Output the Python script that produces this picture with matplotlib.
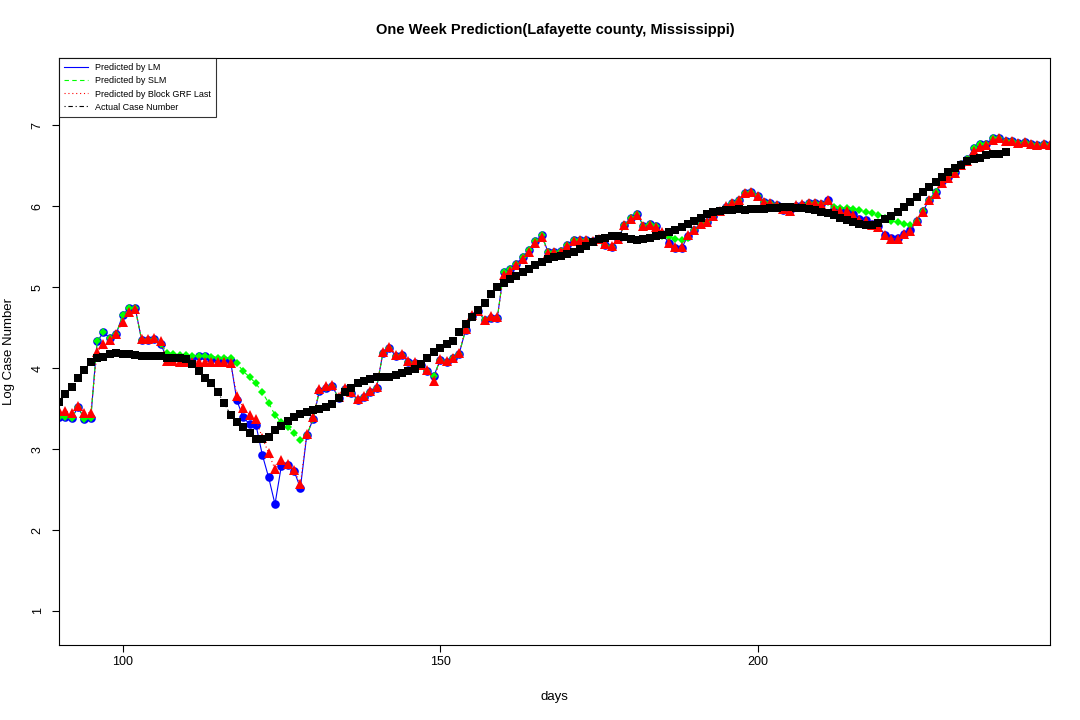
import matplotlib

matplotlib.use("Agg")
import matplotlib.pyplot as plt
from matplotlib.lines import Line2D
import numpy as np

plt.rcParams["font.family"] = ["Liberation Sans", "DejaVu Sans"]

# days covered by the predictions (actual data stops a week earlier)
days = np.arange(90, 247)
actual_days = np.arange(90, 240)

actual = [
    3.58, 3.68, 3.77, 3.88, 3.98, 4.08, 4.12, 4.14, 4.17, 4.19,   # 90-99
    4.18, 4.17, 4.16, 4.15, 4.15, 4.15, 4.15, 4.13, 4.12, 4.12,   # 100-109
    4.11, 4.05, 3.96, 3.88, 3.81, 3.70, 3.57, 3.42, 3.34, 3.27,   # 110-119
    3.20, 3.12, 3.12, 3.15, 3.23, 3.29, 3.35, 3.39, 3.43, 3.46,   # 120-129
    3.48, 3.50, 3.52, 3.56, 3.63, 3.71, 3.76, 3.81, 3.84, 3.87,   # 130-139
    3.89, 3.89, 3.89, 3.92, 3.94, 3.97, 3.99, 4.05, 4.13, 4.20,   # 140-149
    4.25, 4.30, 4.34, 4.44, 4.54, 4.63, 4.72, 4.81, 4.91, 5.00,   # 150-159
    5.05, 5.10, 5.14, 5.19, 5.23, 5.27, 5.31, 5.35, 5.37, 5.39,   # 160-169
    5.41, 5.43, 5.47, 5.51, 5.56, 5.59, 5.61, 5.63, 5.63, 5.62,   # 170-179
    5.60, 5.58, 5.59, 5.61, 5.63, 5.65, 5.68, 5.71, 5.74, 5.78,   # 180-189
    5.82, 5.86, 5.90, 5.93, 5.94, 5.95, 5.95, 5.96, 5.95, 5.96,   # 190-199
    5.96, 5.97, 5.98, 5.98, 5.99, 5.99, 5.98, 5.98, 5.96, 5.95,   # 200-209
    5.93, 5.91, 5.89, 5.86, 5.83, 5.80, 5.78, 5.77, 5.77, 5.79,   # 210-219
    5.84, 5.88, 5.93, 5.99, 6.05, 6.11, 6.17, 6.24, 6.30, 6.36,   # 220-229
    6.42, 6.47, 6.51, 6.56, 6.58, 6.60, 6.63, 6.64, 6.65, 6.67,   # 230-239
]

pred_lm = [
    3.39, 3.40, 3.38, 3.52, 3.37, 3.38, 4.33, 4.44, 4.37, 4.42,   # 90-99
    4.65, 4.74, 4.74, 4.35, 4.35, 4.36, 4.30, 4.12, 4.12, 4.12,   # 100-109
    4.12, 4.13, 4.15, 4.15, 4.11, 4.10, 4.10, 4.09, 3.60, 3.39,   # 110-119
    3.31, 3.30, 2.93, 2.65, 2.32, 2.79, 2.80, 2.73, 2.52, 3.17,   # 120-129
    3.37, 3.72, 3.76, 3.78, 3.63, 3.74, 3.69, 3.61, 3.64, 3.71,   # 130-139
    3.76, 4.19, 4.25, 4.15, 4.16, 4.08, 4.06, 4.04, 3.97, 3.90,   # 140-149
    4.10, 4.08, 4.12, 4.18, 4.47, 4.64, 4.70, 4.59, 4.62, 4.62,   # 150-159
    5.19, 5.22, 5.29, 5.37, 5.46, 5.57, 5.64, 5.43, 5.44, 5.45,   # 160-169
    5.52, 5.58, 5.58, 5.58, 5.57, 5.60, 5.52, 5.50, 5.59, 5.77,   # 170-179
    5.85, 5.90, 5.76, 5.78, 5.75, 5.66, 5.54, 5.48, 5.48, 5.63,   # 180-189
    5.71, 5.78, 5.81, 5.88, 5.94, 5.99, 6.04, 6.07, 6.16, 6.18,   # 190-199
    6.13, 6.05, 6.04, 6.01, 5.95, 5.95, 6.00, 6.02, 6.04, 6.04,   # 200-209
    6.03, 6.07, 5.96, 5.95, 5.95, 5.90, 5.84, 5.83, 5.78, 5.75,   # 210-219
    5.65, 5.61, 5.61, 5.66, 5.70, 5.82, 5.94, 6.08, 6.18, 6.31,   # 220-229
    6.36, 6.42, 6.52, 6.58, 6.72, 6.77, 6.77, 6.84, 6.84, 6.80,   # 230-239
    6.80, 6.78, 6.79, 6.77, 6.76, 6.77, 6.76,                     # 240-246
]

pred_slm = [
    3.39, 3.40, 3.38, 3.52, 3.37, 3.38, 4.33, 4.44, 4.37, 4.42,   # 90-99
    4.65, 4.74, 4.74, 4.35, 4.35, 4.36, 4.30, 4.19, 4.17, 4.16,   # 100-109
    4.16, 4.15, 4.15, 4.15, 4.14, 4.13, 4.12, 4.12, 4.06, 3.96,   # 110-119
    3.89, 3.81, 3.70, 3.57, 3.42, 3.33, 3.27, 3.20, 3.11, 3.17,   # 120-129
    3.37, 3.72, 3.76, 3.78, 3.63, 3.74, 3.69, 3.61, 3.64, 3.71,   # 130-139
    3.76, 4.19, 4.25, 4.15, 4.16, 4.08, 4.06, 4.04, 3.97, 3.90,   # 140-149
    4.10, 4.08, 4.12, 4.18, 4.47, 4.64, 4.70, 4.59, 4.62, 4.62,   # 150-159
    5.19, 5.22, 5.29, 5.37, 5.46, 5.57, 5.64, 5.43, 5.44, 5.45,   # 160-169
    5.52, 5.58, 5.58, 5.58, 5.57, 5.60, 5.52, 5.50, 5.59, 5.77,   # 170-179
    5.85, 5.90, 5.76, 5.78, 5.75, 5.63, 5.62, 5.60, 5.58, 5.61,   # 180-189
    5.71, 5.78, 5.81, 5.88, 5.94, 5.99, 6.04, 6.07, 6.16, 6.18,   # 190-199
    6.13, 6.05, 6.04, 6.01, 5.95, 5.95, 6.00, 6.02, 6.04, 6.04,   # 200-209
    6.03, 6.05, 5.99, 5.98, 5.98, 5.96, 5.95, 5.93, 5.91, 5.89,   # 210-219
    5.86, 5.82, 5.80, 5.78, 5.77, 5.82, 5.94, 6.08, 6.18, 6.31,   # 220-229
    6.36, 6.42, 6.52, 6.58, 6.72, 6.77, 6.77, 6.84, 6.84, 6.80,   # 230-239
    6.80, 6.78, 6.79, 6.77, 6.76, 6.77, 6.76,                     # 240-246
]

pred_grf = [
    3.47, 3.47, 3.45, 3.53, 3.45, 3.45, 4.20, 4.30, 4.35, 4.42,   # 90-99
    4.57, 4.69, 4.73, 4.36, 4.36, 4.37, 4.33, 4.09, 4.09, 4.08,   # 100-109
    4.08, 4.08, 4.08, 4.08, 4.08, 4.08, 4.07, 4.06, 3.66, 3.51,   # 110-119
    3.42, 3.37, 3.14, 2.95, 2.75, 2.86, 2.81, 2.74, 2.57, 3.18,   # 120-129
    3.39, 3.74, 3.78, 3.79, 3.64, 3.76, 3.70, 3.62, 3.65, 3.72,   # 130-139
    3.77, 4.20, 4.26, 4.16, 4.17, 4.09, 4.07, 4.04, 3.98, 3.84,   # 140-149
    4.11, 4.09, 4.13, 4.19, 4.48, 4.65, 4.71, 4.60, 4.64, 4.63,   # 150-159
    5.15, 5.20, 5.27, 5.35, 5.44, 5.55, 5.62, 5.42, 5.43, 5.44,   # 160-169
    5.51, 5.57, 5.58, 5.58, 5.57, 5.60, 5.53, 5.51, 5.59, 5.77,   # 170-179
    5.84, 5.89, 5.75, 5.77, 5.74, 5.68, 5.55, 5.49, 5.49, 5.64,   # 180-189
    5.71, 5.78, 5.81, 5.88, 5.94, 6.00, 6.04, 6.07, 6.16, 6.18,   # 190-199
    6.13, 6.05, 6.04, 6.02, 5.96, 5.94, 6.02, 6.03, 6.04, 6.04,   # 200-209
    6.03, 6.07, 5.95, 5.94, 5.94, 5.89, 5.83, 5.82, 5.77, 5.74,   # 210-219
    5.64, 5.60, 5.60, 5.66, 5.69, 5.82, 5.93, 6.07, 6.15, 6.29,   # 220-229
    6.35, 6.41, 6.51, 6.56, 6.68, 6.73, 6.75, 6.82, 6.84, 6.80,   # 230-239
    6.80, 6.78, 6.79, 6.77, 6.76, 6.77, 6.76,                     # 240-246
]

fig = plt.figure(figsize=(10.8, 7.2), dpi=100)
ax = fig.add_axes([59 / 1080, 1 - 645 / 720, 991 / 1080, 587 / 720])

ax.plot(days, pred_lm, color="#0000ff", linewidth=0.8, linestyle="-",
        marker="o", markersize=6.2, markeredgewidth=0)
ax.plot(days, pred_slm, color="#00ff00", linewidth=0.8, linestyle=(0, (4, 3)),
        marker="D", markersize=3.6, markeredgewidth=0)
ax.plot(days, pred_grf, color="#ff0000", linewidth=0.8, linestyle=(0, (1, 2.5)),
        marker="^", markersize=6.5, markeredgewidth=0)
ax.plot(actual_days, actual, color="black", linewidth=0.8, linestyle=(0, (1, 2.5, 4, 2.5)),
        marker="s", markersize=5.2, markeredgewidth=0)

ax.set_xlim(90, 246)
ax.set_ylim(0.58, 7.83)
ax.set_xticks([100, 150, 200])
ax.set_yticks([1, 2, 3, 4, 5, 6, 7])
ax.tick_params(labelsize=9, length=5, width=0.8, direction="out")
ax.tick_params(axis="x", pad=3)
ax.tick_params(axis="y", pad=6)
for lbl in ax.get_yticklabels():
    lbl.set_rotation(90)
    lbl.set_va("center")
for sp in ax.spines.values():
    sp.set_linewidth(0.8)

ax.set_xlabel("days", fontsize=9.5)
ax.set_ylabel("Log Case Number", fontsize=9.5)
ax.xaxis.set_label_coords(0.5, -0.0886)
ax.yaxis.set_label_coords(-0.0505, 0.5)
ax.xaxis.label.set_va("center")
ax.yaxis.label.set_va("center")
fig.text(0.514, 0.958, "One Week Prediction(Lafayette county, Mississippi)",
         ha="center", va="center", fontsize=10.5, fontweight="bold")

handles = [
    Line2D([], [], color="#0000ff", linewidth=0.8, linestyle="-"),
    Line2D([], [], color="#00ff00", linewidth=0.8, linestyle=(0, (4, 3))),
    Line2D([], [], color="#ff0000", linewidth=0.8, linestyle=(0, (1, 2.5))),
    Line2D([], [], color="black", linewidth=0.8, linestyle=(0, (1, 2.5, 4, 2.5))),
]
labels = ["Predicted by LM", "Predicted by SLM", "Predicted by Block GRF Last",
          "Actual Case Number"]
leg = ax.legend(handles, labels, loc="upper left", borderaxespad=0, fontsize=6.5,
                frameon=True, fancybox=False, edgecolor="black", handlelength=2.6,
                handletextpad=0.8, labelspacing=0.45, borderpad=0.6)
leg.get_frame().set_linewidth(0.8)

fig.savefig("out.png", dpi=100)
